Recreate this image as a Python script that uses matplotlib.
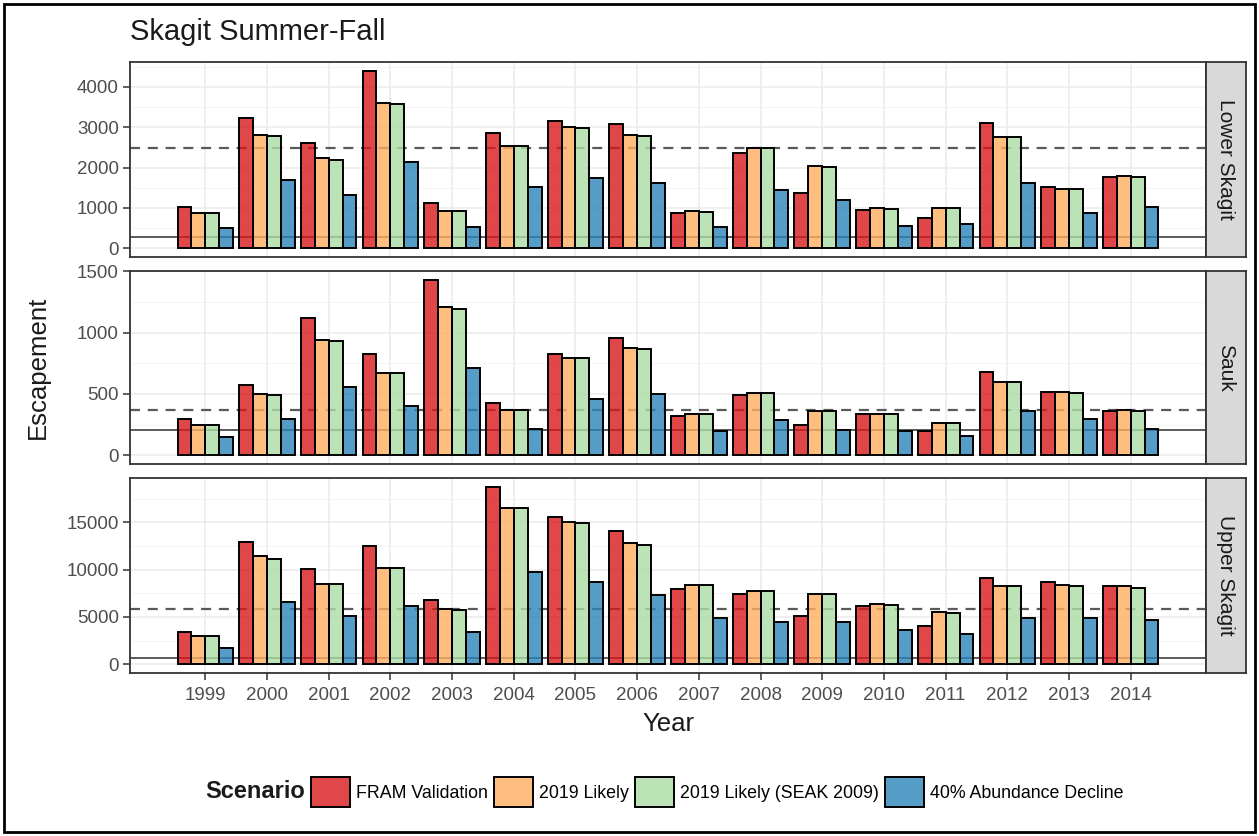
import numpy as np
import matplotlib
matplotlib.use("Agg")
import matplotlib.pyplot as plt
from matplotlib.patches import Patch, Rectangle

plt.rcParams["font.family"] = ["Liberation Sans", "DejaVu Sans"]

years = list(range(1999, 2015))
scenarios = ["FRAM Validation", "2019 Likely", "2019 Likely (SEAK 2009)", "40% Abundance Decline"]
colors = ["#D7191C", "#FDAE61", "#ABDDA4", "#2B83BA"]
stocks = ["Lower Skagit", "Sauk", "Upper Skagit"]

# escapement per stock, one list per scenario
lower_fram = [1030, 3220, 2620, 4400, 1110, 2870, 3150, 3070, 880, 2370, 1380, 940, 740, 3100, 1520, 1770]
lower_lik = [870, 2820, 2230, 3600, 930, 2530, 3010, 2800, 930, 2490, 2040, 990, 990, 2770, 1480, 1800]
lower_seak = [870, 2780, 2190, 3570, 930, 2530, 2990, 2780, 900, 2480, 2020, 960, 990, 2750, 1470, 1770]
lower_dec = [490, 1680, 1320, 2130, 530, 1520, 1730, 1610, 530, 1440, 1190, 560, 590, 1620, 880, 1030]

sauk_fram = [292, 571, 1116, 829, 1432, 424, 829, 955, 319, 488, 244, 335, 196, 676, 520, 359]
sauk_lik = [244, 499, 941, 673, 1209, 373, 791, 874, 340, 504, 359, 340, 260, 601, 520, 368]
sauk_seak = [244, 493, 936, 673, 1196, 373, 791, 866, 340, 504, 359, 340, 260, 601, 507, 359]
sauk_dec = [147, 292, 555, 405, 711, 217, 456, 502, 196, 290, 209, 198, 158, 359, 295, 212]

upper_fram = [3440, 12910, 10100, 12460, 6770, 18770, 15610, 14140, 8000, 7440, 5090, 6140, 4040, 9120, 8670, 8250]
upper_lik = [2980, 11400, 8490, 10180, 5790, 16490, 15020, 12810, 8420, 7790, 7440, 6320, 5510, 8250, 8420, 8250]
upper_seak = [2980, 11160, 8490, 10180, 5680, 16490, 14910, 12630, 8420, 7790, 7440, 6250, 5440, 8250, 8320, 8070]
upper_dec = [1750, 6600, 5090, 6140, 3400, 9720, 8700, 7370, 4840, 4460, 4460, 3610, 3230, 4840, 4910, 4670]

values = {
    "Lower Skagit": [lower_fram, lower_lik, lower_seak, lower_dec],
    "Sauk": [sauk_fram, sauk_lik, sauk_seak, sauk_dec],
    "Upper Skagit": [upper_fram, upper_lik, upper_seak, upper_dec],
}
goal_line = {"Lower Skagit": 2475, "Sauk": 372, "Upper Skagit": 5800}   # dashed
low_line = {"Lower Skagit": 270, "Sauk": 204, "Upper Skagit": 700}      # solid
yticks = {"Lower Skagit": [0, 1000, 2000, 3000, 4000],
          "Sauk": [0, 500, 1000, 1500],
          "Upper Skagit": [0, 5000, 10000, 15000]}

W, H = 1259, 836
fig = plt.figure(figsize=(W / 100, H / 100), dpi=100)
fig.patch.set_facecolor("white")

def fx(px): return px / W
def fy(py): return 1 - py / H

left, right, sright = 130, 1206, 1246
panels = [(62, 257), (271, 464), (478, 673)]
x = np.arange(len(years))
bw = 0.9 / 4
for k, stock in enumerate(stocks):
    top, bot = panels[k]
    ax = fig.add_axes([fx(left), fy(bot), fx(right - left), (bot - top) / H])
    vals = values[stock]
    vmax = max(max(v) for v in vals)
    ax.axhline(goal_line[stock], color="#5A5A5A", lw=1.6, ls=(0, (4.5, 3.5)), zorder=1)
    ax.axhline(low_line[stock], color="#5A5A5A", lw=1.4, zorder=1)
    for j in range(4):
        ax.bar(x - 0.45 + bw * (j + 0.5), vals[j], width=bw, color=colors[j], alpha=0.8,
               linewidth=0, zorder=2)
        ax.bar(x - 0.45 + bw * (j + 0.5), vals[j], width=bw, facecolor="none",
               edgecolor="black", linewidth=1.4, zorder=3)
    ax.set_xlim(-1.22, len(years) + 0.22)
    ax.set_ylim(-0.05 * vmax, 1.05 * vmax)
    yt = yticks[stock]
    ax.set_yticks(yt)
    ax.set_yticklabels([str(t) for t in yt])
    step = yt[1] - yt[0]
    ax.set_yticks([t + step / 2 for t in yt if t + step / 2 < 1.05 * vmax], minor=True)
    ax.set_xticks(x)
    ax.grid(True, which="major", color="#EBEBEB", lw=1.1, zorder=0)
    ax.grid(True, which="minor", axis="y", color="#F2F2F2", lw=0.6, zorder=0)
    ax.set_axisbelow(True)
    ax.tick_params(axis="y", which="minor", length=0)
    ax.tick_params(axis="both", which="major", length=5, width=1.1, color="#333333",
                   labelcolor="#4D4D4D", labelsize=13.5, pad=3)
    if k < 2:
        ax.tick_params(axis="x", which="major", labelbottom=False, length=0)
    else:
        ax.set_xticklabels([str(y) for y in years])
        ax.tick_params(axis="x", pad=5)
    for s in ax.spines.values():
        s.set_color("#333333"); s.set_linewidth(1.3)
    # facet strip on the right
    sax = fig.add_axes([fx(right), fy(bot), fx(sright - right), (bot - top) / H])
    sax.set_facecolor("#D9D9D9")
    sax.set_xticks([]); sax.set_yticks([])
    for s in sax.spines.values():
        s.set_color("#333333"); s.set_linewidth(1.3)
    sax.text(0.5, 0.5, stock, rotation=270, ha="center", va="center", fontsize=15,
             color="#1A1A1A", transform=sax.transAxes)

fig.text(fx(left), fy(32), "Skagit Summer-Fall", fontsize=21, ha="left", va="center", color="#1A1A1A")
fig.text(fx(38), fy((62 + 673) / 2), "Escapement", rotation=90, fontsize=18.5,
         ha="center", va="center", color="#1A1A1A")
fig.text(fx((left + right) / 2), fy(724), "Year", fontsize=18.5, ha="center", va="center", color="#1A1A1A")

handles = [Patch(facecolor=matplotlib.colors.to_rgba(c, 0.8), edgecolor="black", linewidth=1.4) for c in colors]
fig.text(fx(305), fy(792), "Scenario", fontsize=17, fontweight="bold", ha="right", va="center", color="#1A1A1A")
fig.legend(handles, scenarios, loc="center left", bbox_to_anchor=(fx(311), fy(792)), ncol=4,
           frameon=False, fontsize=12.8, handlelength=2.2, handleheight=2.2, handletextpad=0.33,
           columnspacing=0.35, borderpad=0, borderaxespad=0)

fig.add_artist(Rectangle((fx(4), fy(832)), fx(1251), 828 / H, transform=fig.transFigure,
                         fill=False, edgecolor="black", lw=2))
fig.savefig("out.png", dpi=100)
